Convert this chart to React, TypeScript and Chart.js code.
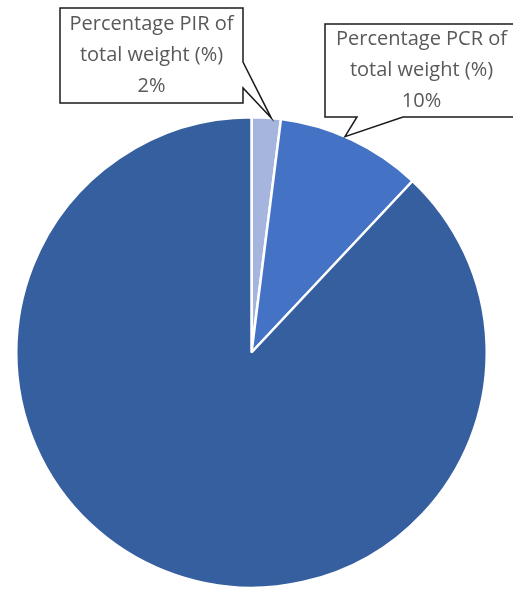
import React, { useEffect, useRef } from "react";
import { Chart, registerables } from "chart.js";

Chart.register(...registerables);

// slice data, clockwise from 12 o'clock
const sliceLabels = [
  ["Percentage PIR of", "total weight (%)"],
  ["Percentage PCR of", "total weight (%)"],
  ["Remaining weight", "(%)"],
];
const sliceValues = [2, 10, 88];
const sliceColors = ["#A6B5DE", "#4472C4", "#365F9F"];
// which slices get a callout label
const calloutSlices = [0, 1];

// callout boxes: rect, side of the pointer, pointer base, where along the arc it points
const calloutLayout = [
  { x: 60, y: 8, w: 183, h: 95, side: "right", base: [62, 88], at: 0.67 },
  { x: 325, y: 24, w: 193, h: 93, side: "bottom", base: [357, 403], at: 0.45 },
];

const calloutPlugin = {
  id: "callouts",
  afterDraw(chart: any) {
    const ctx = chart.ctx;
    const meta = chart.getDatasetMeta(0);
    calloutSlices.forEach((idx, i) => {
      const box = calloutLayout[i];
      const arc = meta.data[idx];
      const { x, y, startAngle, endAngle, outerRadius } = arc.getProps(
        ["x", "y", "startAngle", "endAngle", "outerRadius"],
        true
      );
      const a = startAngle + (endAngle - startAngle) * box.at;
      const tx = x + Math.cos(a) * outerRadius;
      const ty = y + Math.sin(a) * outerRadius;

      ctx.save();
      ctx.beginPath();
      const r = box.x + box.w;
      const b = box.y + box.h;
      if (box.side === "right") {
        ctx.moveTo(box.x, box.y);
        ctx.lineTo(r, box.y);
        ctx.lineTo(r, box.base[0]);
        ctx.lineTo(tx, ty);
        ctx.lineTo(r, box.base[1]);
        ctx.lineTo(r, b);
        ctx.lineTo(box.x, b);
      } else {
        ctx.moveTo(box.x, box.y);
        ctx.lineTo(r, box.y);
        ctx.lineTo(r, b);
        ctx.lineTo(box.base[1], b);
        ctx.lineTo(tx, ty);
        ctx.lineTo(box.base[0], b);
        ctx.lineTo(box.x, b);
      }
      ctx.closePath();
      ctx.fillStyle = "#ffffff";
      ctx.fill();
      ctx.lineWidth = 1.5;
      ctx.strokeStyle = "#1a1a1a";
      ctx.stroke();

      const lines = [...sliceLabels[idx], `${sliceValues[idx]}%`];
      ctx.fillStyle = "#595959";
      ctx.font = '20px "Open Sans", sans-serif';
      ctx.textAlign = "center";
      ctx.textBaseline = "middle";
      const cx = box.x + box.w / 2;
      const cy = box.y + box.h / 2;
      const lh = 31;
      lines.forEach((t, k) => {
        ctx.fillText(t, cx, cy + (k - (lines.length - 1) / 2) * lh);
      });
      ctx.restore();
    });
  },
};

const App: React.FC = () => {
  const canvasRef = useRef<HTMLCanvasElement | null>(null);

  useEffect(() => {
    if (!canvasRef.current) return;
    const chart = new Chart(canvasRef.current, {
      type: "pie",
      data: {
        labels: sliceLabels,
        datasets: [
          {
            data: sliceValues,
            backgroundColor: sliceColors,
            borderColor: "#ffffff",
            borderWidth: 2.5,
          },
        ],
      },
      options: {
        responsive: false,
        animation: false,
        devicePixelRatio: 1,
        layout: { padding: { left: 15, right: 25, top: 116, bottom: 0 } },
        plugins: {
          legend: { display: false },
          tooltip: { enabled: false },
        },
      },
      plugins: [calloutPlugin],
    });
    return () => chart.destroy();
  }, []);

  return (
    <div style={{ position: "absolute", left: 0, top: 0, width: 513, height: 589, background: "#fff" }}>
      <canvas ref={canvasRef} width={513} height={589} style={{ display: "block" }} />
    </div>
  );
};

export default App;
